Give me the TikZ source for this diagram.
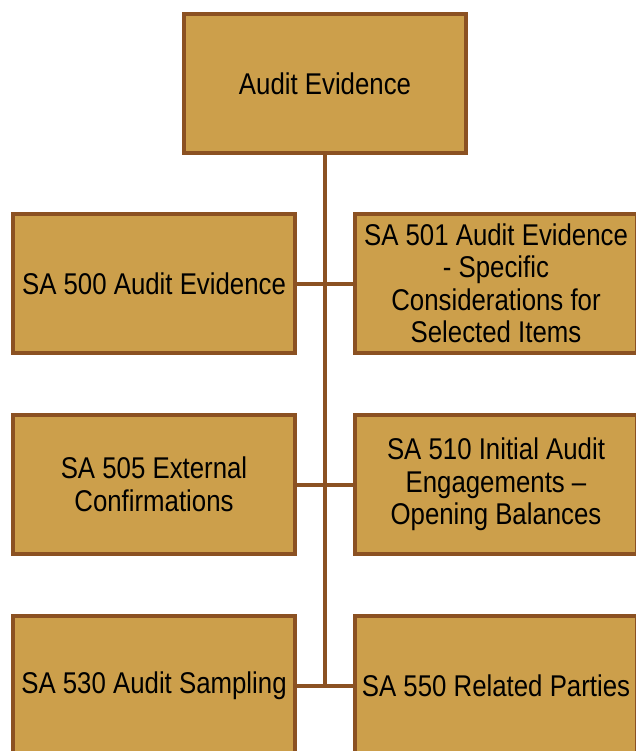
\documentclass[tikz,border=0pt]{standalone}
\usepackage{fontspec}
\setmainfont[FakeStretch=0.86]{Liberation Sans}
\definecolor{boxfill}{HTML}{CC9F4B}
\definecolor{boxline}{HTML}{8B5122}
\begin{document}
\begin{tikzpicture}[x=1pt,y=1pt,
  sabox/.style={draw=boxline,fill=boxfill,line width=4pt,minimum width=282pt,minimum height=139pt,
    inner sep=0pt,outer sep=0pt,align=center,font=\fontsize{30}{32.5}\selectfont},
  conn/.style={draw=boxline,line width=4pt}]
\useasboundingbox (0,0) rectangle (636,-751);
\clip (0,0) rectangle (636,-751);
\fill[white] (0,0) rectangle (636,-751);
\node[sabox] (top) at (325,-84) {Audit Evidence};
\node[sabox] (l1) at (154,-283.5) {SA 500 Audit Evidence};
\node[sabox] (r1) at (496,-283.5) {SA 501 Audit Evidence\\- Specific\\Considerations for\\Selected Items};
\node[sabox] (l2) at (154,-484.5) {SA 505 External\\Confirmations};
\node[sabox] (r2) at (496,-484.5) {SA 510 Initial Audit\\Engagements --\\Opening Balances};
\node[sabox] (l3) at (154,-685.5) {SA 530 Audit Sampling};
\node[sabox] (r3) at (496,-685.5) {SA 550 Related Parties};
\coordinate (junc) at (top.south |- l3.east);
\draw[conn] (top.south) -- (junc);
\draw[conn] (l1.east) -- (r1.west);
\draw[conn] (l2.east) -- (r2.west);
\draw[conn] (l3.east) -- (r3.west);
\end{tikzpicture}
\end{document}
